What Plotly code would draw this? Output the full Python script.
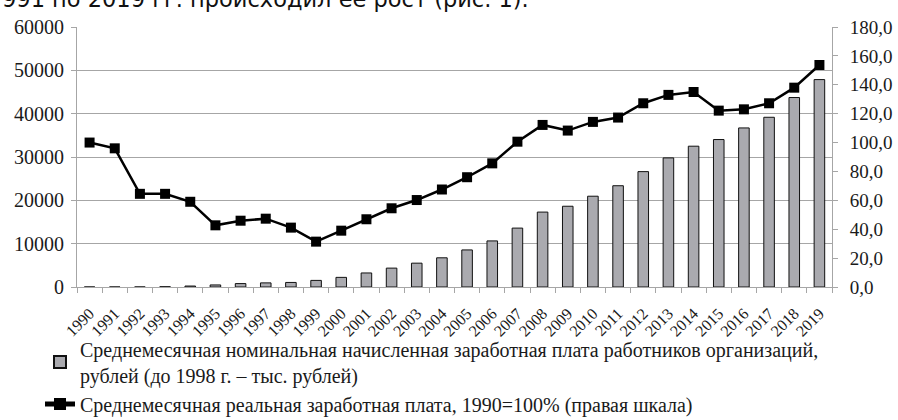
import plotly.graph_objects as go

years = [str(y) for y in range(1990, 2020)]
nominal_wage = [0.3, 0.5, 6.0, 58.7, 220.4, 472.4, 790.2, 950.2, 1051.5, 1522.6,
                2223.4, 3240.4, 4360.3, 5498.5, 6739.5, 8554.9, 10633.9, 13593.4,
                17290.1, 18637.5, 20952.2, 23369.2, 26628.9, 29792.0, 32495.0,
                34030.0, 36709.0, 39167.0, 43724.0, 47867.0]
real_wage_index = [100.0, 96.0, 64.5, 64.5, 59.0, 42.7, 45.9, 47.3, 41.1, 31.4,
                   39.0, 46.9, 54.5, 60.2, 67.5, 76.0, 85.6, 100.6, 112.2, 108.3,
                   114.3, 117.3, 127.2, 133.0, 135.0, 122.1, 123.0, 127.2, 138.0, 153.7]

name_bar = ("Среднемесячная номинальная начисленная заработная плата работников организаций,"
            "<br>рублей (до 1998 г. – тыс. рублей)")
name_line = "Среднемесячная реальная заработная плата, 1990=100% (правая шкала)"
top_text = "991 по 2019 гг. происходил ее рост (рис. 1)."

SERIF = "Liberation Serif, Times New Roman, serif"
GRID = "#A6A6A6"
TXT = "#1a1a1a"

fig = go.Figure()
fig.add_trace(go.Bar(
    x=years, y=nominal_wage, name=name_bar, yaxis="y",
    marker=dict(color="#AAAAAF", line=dict(color="#111111", width=1)),
    width=0.42,
))
fig.add_trace(go.Scatter(
    x=years, y=real_wage_index, name=name_line, yaxis="y2",
    mode="lines+markers",
    line=dict(color="#000000", width=2.5),
    marker=dict(symbol="square", size=10, color="#000000"),
))

fig.update_layout(
    width=898, height=420,
    margin=dict(l=77, r=66, t=27, b=133, autoexpand=False),
    paper_bgcolor="white", plot_bgcolor="white",
    separators=", ",
    font=dict(family=SERIF, size=15, color=TXT),
    showlegend=True,
    legend=dict(
        x=-0.049, y=-0.163, xanchor="left", yanchor="top",
        font=dict(family=SERIF, size=20, color=TXT),
        tracegroupgap=0, itemsizing="constant",
        bgcolor="rgba(0,0,0,0)",
    ),
    xaxis=dict(
        type="category", range=[-0.5, len(years) - 0.5],
        tickson="boundaries", ticks="outside", ticklen=5,
        tickcolor=GRID, showline=True, linecolor=GRID, linewidth=1,
        tickangle=-45, tickfont=dict(family=SERIF, size=16, color=TXT),
        ticklabelstandoff=10,
        showgrid=False, automargin=False,
    ),
    yaxis=dict(
        range=[0, 60000], dtick=10000, tickformat="d",
        showgrid=True, gridcolor=GRID, gridwidth=1,
        showline=True, linecolor=GRID, ticks="outside", ticklen=5, tickcolor=GRID,
        tickfont=dict(family=SERIF, size=20, color=TXT), zeroline=False,
        ticklabelstandoff=3, automargin=False,
    ),
    yaxis2=dict(
        range=[0, 180], dtick=20, tickformat=".1f", overlaying="y", side="right",
        showgrid=False, showline=True, linecolor=GRID, ticks="outside", ticklen=5,
        tickcolor=GRID, tickfont=dict(family=SERIF, size=19, color=TXT), zeroline=False,
        ticklabelstandoff=8, automargin=False,
    ),
    bargap=0.58,
)

fig.add_annotation(
    text=top_text, xref="paper", yref="paper",
    x=-0.102, y=1.049, xanchor="left", yanchor="bottom", showarrow=False,
    font=dict(family="DejaVu Sans", size=22.5, color="#111111"),
)

fig.write_html("out.html", config={"displayModeBar": False},
               post_script="document.body.style.margin='0';")
